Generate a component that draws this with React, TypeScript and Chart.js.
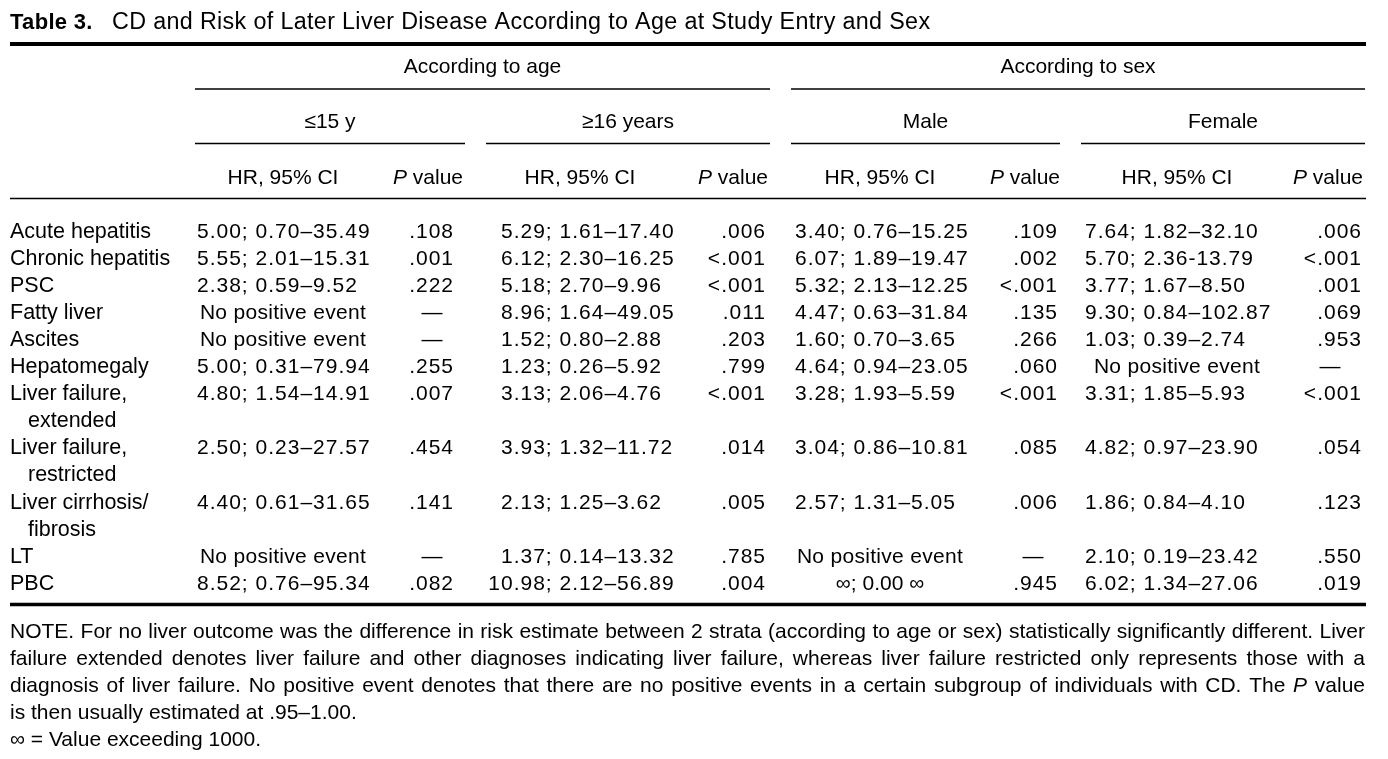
import React, { useEffect, useRef } from "react";
import { Chart, registerables } from "chart.js";

Chart.register(...registerables);

// ---------- data ----------
const titleBold = "Table 3.";
const titleText = "CD and Risk of Later Liver Disease According to Age at Study Entry and Sex";
const groupHeaders = ["According to age", "According to sex"];
const subgroups = ["≤15 y", "≥16 years", "Male", "Female"];
const colHeaderHR = "HR, 95% CI";
const colHeaderP = "value";

const outcomes: string[][] = [
  ["Acute hepatitis"],
  ["Chronic hepatitis"],
  ["PSC"],
  ["Fatty liver"],
  ["Ascites"],
  ["Hepatomegaly"],
  ["Liver failure,", "extended"],
  ["Liver failure,", "restricted"],
  ["Liver cirrhosis/", "fibrosis"],
  ["LT"],
  ["PBC"],
];

const NPE = "No positive event";
const hrAge15 = ["5.00; 0.70–35.49", "5.55; 2.01–15.31", "2.38; 0.59–9.52", NPE, NPE, "5.00; 0.31–79.94", "4.80; 1.54–14.91", "2.50; 0.23–27.57", "4.40; 0.61–31.65", NPE, "8.52; 0.76–95.34"];
const pAge15 = [".108", ".001", ".222", "—", "—", ".255", ".007", ".454", ".141", "—", ".082"];
const hrAge16 = ["5.29; 1.61–17.40", "6.12; 2.30–16.25", "5.18; 2.70–9.96", "8.96; 1.64–49.05", "1.52; 0.80–2.88", "1.23; 0.26–5.92", "3.13; 2.06–4.76", "3.93; 1.32–11.72", "2.13; 1.25–3.62", "1.37; 0.14–13.32", "10.98; 2.12–56.89"];
const pAge16 = [".006", "<.001", "<.001", ".011", ".203", ".799", "<.001", ".014", ".005", ".785", ".004"];
const hrMale = ["3.40; 0.76–15.25", "6.07; 1.89–19.47", "5.32; 2.13–12.25", "4.47; 0.63–31.84", "1.60; 0.70–3.65", "4.64; 0.94–23.05", "3.28; 1.93–5.59", "3.04; 0.86–10.81", "2.57; 1.31–5.05", NPE, "∞; 0.00 ∞"];
const pMale = [".109", ".002", "<.001", ".135", ".266", ".060", "<.001", ".085", ".006", "—", ".945"];
const hrFemale = ["7.64; 1.82–32.10", "5.70; 2.36-13.79", "3.77; 1.67–8.50", "9.30; 0.84–102.87", "1.03; 0.39–2.74", NPE, "3.31; 1.85–5.93", "4.82; 0.97–23.90", "1.86; 0.84–4.10", "2.10; 0.19–23.42", "6.02; 1.34–27.06"];
const pFemale = [".006", "<.001", ".001", ".069", ".953", "—", "<.001", ".054", ".123", ".550", ".019"];

const noteLines = [
  "NOTE. For no liver outcome was the difference in risk estimate between 2 strata (according to age or sex) statistically significantly different. Liver",
  "failure extended denotes liver failure and other diagnoses indicating liver failure, whereas liver failure restricted only represents those with a",
  "diagnosis of liver failure. No positive event denotes that there are no positive events in a certain subgroup of individuals with CD. The *P* value",
  "is then usually estimated at .95–1.00.",
  "∞ = Value exceeding 1000.",
];
const noteJustified = [true, true, true, false, false];

// ---------- layout ----------
const W = 1388;
const H = 759;
const FONT = "'Liberation Sans', Arial, Helvetica, sans-serif";
const BODY = 21;
const LABEL = 21.5;
const NOTE = 21;

// column layout (x in scale units = px)
const columns = [
  { hr: hrAge15, p: pAge15, start: 197, center: 283, pRight: 453, dash: 432, hdrP: 463, rule: [195, 465] },
  { hr: hrAge16, p: pAge16, start: 501, center: 580, pRight: 765, dash: 744, hdrP: 768, rule: [486, 770] },
  { hr: hrMale, p: pMale, start: 795, center: 880, pRight: 1057, dash: 1033, hdrP: 1060, rule: [791, 1060] },
  { hr: hrFemale, p: pFemale, start: 1085, center: 1177, pRight: 1361, dash: 1330, hdrP: 1363, rule: [1081, 1365] },
];
const groupRules = [[195, 770], [791, 1365]];

// line slots for body rows
const firstLine: number[] = [];
const lineLabels: { text: string; indent: boolean }[] = [];
outcomes.forEach((o) => {
  firstLine.push(lineLabels.length);
  o.forEach((t, j) => lineLabels.push({ text: t, indent: j > 0 }));
});
const nLines = lineLabels.length;
const rowPitch = 27.1;
const firstCenter = 230;
const padTop = firstCenter - rowPitch / 2;
const padBottom = H - (padTop + rowPitch * nLines);

function setFont(ctx: CanvasRenderingContext2D, size: number, weight = "normal", style = "normal") {
  ctx.font = `${style} ${weight} ${size}px ${FONT}`;
}

const tablePlugin = {
  id: "tableText",
  afterDatasetsDraw(chart: any) {
    const ctx: CanvasRenderingContext2D = chart.ctx;
    const xs = chart.scales.x;
    const X = (v: number) => xs.getPixelForValue(v);
    const ls = (v: string) => ((ctx as any).letterSpacing = v);
    ctx.save();
    ctx.fillStyle = "#000";
    ctx.strokeStyle = "#000";
    ctx.textBaseline = "alphabetic";
    ls("0px");

    const hline = (x0: number, x1: number, y: number, w: number) => {
      ctx.beginPath();
      ctx.lineWidth = w;
      ctx.moveTo(X(x0), y);
      ctx.lineTo(X(x1), y);
      ctx.stroke();
    };

    // title
    ctx.textAlign = "left";
    setFont(ctx, 22, "bold");
    ls("0.3px");
    ctx.fillText(titleBold, X(10), 29);
    setFont(ctx, 23.3);
    ls("0.35px");
    ctx.fillText(titleText, X(112), 29);
    ls("0px");

    // rules
    hline(10, 1366, 44, 4);
    groupRules.forEach((r) => hline(r[0], r[1], 89, 1.5));
    columns.forEach((c) => hline(c.rule[0], c.rule[1], 143.5, 1.5));
    hline(10, 1366, 198.5, 1.5);
    hline(10, 1366, 604.5, 3.5);

    // headers
    setFont(ctx, BODY);
    ctx.textAlign = "center";
    groupHeaders.forEach((g, i) => {
      const r = groupRules[i];
      ctx.fillText(g, X((r[0] + r[1]) / 2), 73);
    });
    subgroups.forEach((s, i) => {
      const r = columns[i].rule;
      ctx.fillText(s, X((r[0] + r[1]) / 2), 128);
    });
    columns.forEach((c) => {
      setFont(ctx, BODY);
      ctx.textAlign = "center";
      ctx.fillText(colHeaderHR, X(c.center), 184);
      ctx.textAlign = "right";
      const vw = ctx.measureText(" " + colHeaderP).width;
      ctx.fillText(" " + colHeaderP, X(c.hdrP), 184);
      setFont(ctx, BODY, "normal", "italic");
      ctx.fillText("P", X(c.hdrP) - vw, 184);
    });

    // body labels (dataset 0 positions)
    const labelMeta = chart.getDatasetMeta(0);
    setFont(ctx, LABEL);
    ctx.textAlign = "left";
    labelMeta.data.forEach((pt: any, i: number) => {
      const l = lineLabels[i];
      ctx.fillText(l.text, pt.x + (l.indent ? 18 : 0), pt.y + 7.5);
    });

    // body cells
    columns.forEach((c, ci) => {
      const hrMeta = chart.getDatasetMeta(1 + ci * 2);
      const pMeta = chart.getDatasetMeta(2 + ci * 2);
      hrMeta.data.forEach((pt: any, i: number) => {
        const t = c.hr[i];
        const y = pt.y + 7.5;
        setFont(ctx, BODY);
        if (t === NPE || t.startsWith("∞")) {
          ls(t === NPE ? "0.3px" : "0px");
          ctx.textAlign = "center";
          ctx.fillText(t, X(c.center), y);
        } else {
          ls("1px");
          const k = t.indexOf(";");
          const anchor = pt.x + ctx.measureText("0.00").width;
          ctx.textAlign = "right";
          ctx.fillText(t.slice(0, k), anchor, y);
          ctx.textAlign = "left";
          ctx.fillText(t.slice(k), anchor, y);
        }
        ls("0px");
      });
      pMeta.data.forEach((pt: any, i: number) => {
        const t = c.p[i];
        const y = pt.y + 7.5;
        setFont(ctx, BODY);
        if (t === "—") {
          ctx.textAlign = "center";
          ctx.fillText(t, X(c.dash), y);
        } else {
          ls("1px");
          ctx.textAlign = "right";
          ctx.fillText(t, pt.x + 1, y);
          ls("0px");
        }
      });
    });

    // notes
    const noteBase = 638;
    const notePitch = 26.9;
    ctx.textAlign = "left";
    noteLines.forEach((line, li) => {
      const y = noteBase + li * notePitch;
      const words = line.split(" ").map((w) => {
        const it = w.startsWith("*") && w.endsWith("*");
        return { text: it ? w.slice(1, -1) : w, italic: it };
      });
      const widths = words.map((w) => {
        setFont(ctx, NOTE, "normal", w.italic ? "italic" : "normal");
        return ctx.measureText(w.text).width;
      });
      setFont(ctx, NOTE);
      const spaceW = ctx.measureText(" ").width;
      const total = widths.reduce((a, b) => a + b, 0);
      const gap = noteJustified[li] && words.length > 1 ? (X(1365) - X(10) - total) / (words.length - 1) : spaceW;
      let x = X(10);
      words.forEach((w, i) => {
        setFont(ctx, NOTE, "normal", w.italic ? "italic" : "normal");
        ctx.fillText(w.text, x, y);
        x += widths[i] + gap;
      });
    });

    ctx.restore();
  },
};

export default function App() {
  const ref = useRef<HTMLCanvasElement | null>(null);
  useEffect(() => {
    if (!ref.current) return;
    const datasets: any[] = [
      {
        label: "Outcome",
        data: lineLabels.map((_, i) => ({ x: 10, y: i })),
      },
    ];
    columns.forEach((c, ci) => {
      datasets.push({ label: `HR ${ci}`, data: c.hr.map((_, i) => ({ x: c.start, y: firstLine[i] })) });
      datasets.push({ label: `P ${ci}`, data: c.p.map((_, i) => ({ x: c.pRight, y: firstLine[i] })) });
    });
    datasets.forEach((d) => {
      d.pointRadius = 0;
      d.pointHoverRadius = 0;
      d.showLine = false;
    });
    const chart = new Chart(ref.current, {
      type: "scatter",
      data: { datasets },
      options: {
        responsive: false,
        animation: false,
        devicePixelRatio: 1,
        layout: { padding: { top: padTop, bottom: padBottom, left: 0, right: 0 } },
        plugins: { legend: { display: false }, tooltip: { enabled: false }, title: { display: false } },
        events: [],
        scales: {
          x: { type: "linear", min: 0, max: W, display: false },
          y: { type: "linear", min: -0.5, max: nLines - 0.5, reverse: true, display: false },
        },
      },
      plugins: [tablePlugin],
    });
    return () => chart.destroy();
  }, []);
  return (
    <div style={{ position: "absolute", left: 0, top: 0, width: W, height: H, background: "#fff" }}>
      <canvas ref={ref} width={W} height={H} style={{ display: "block" }} />
    </div>
  );
}
